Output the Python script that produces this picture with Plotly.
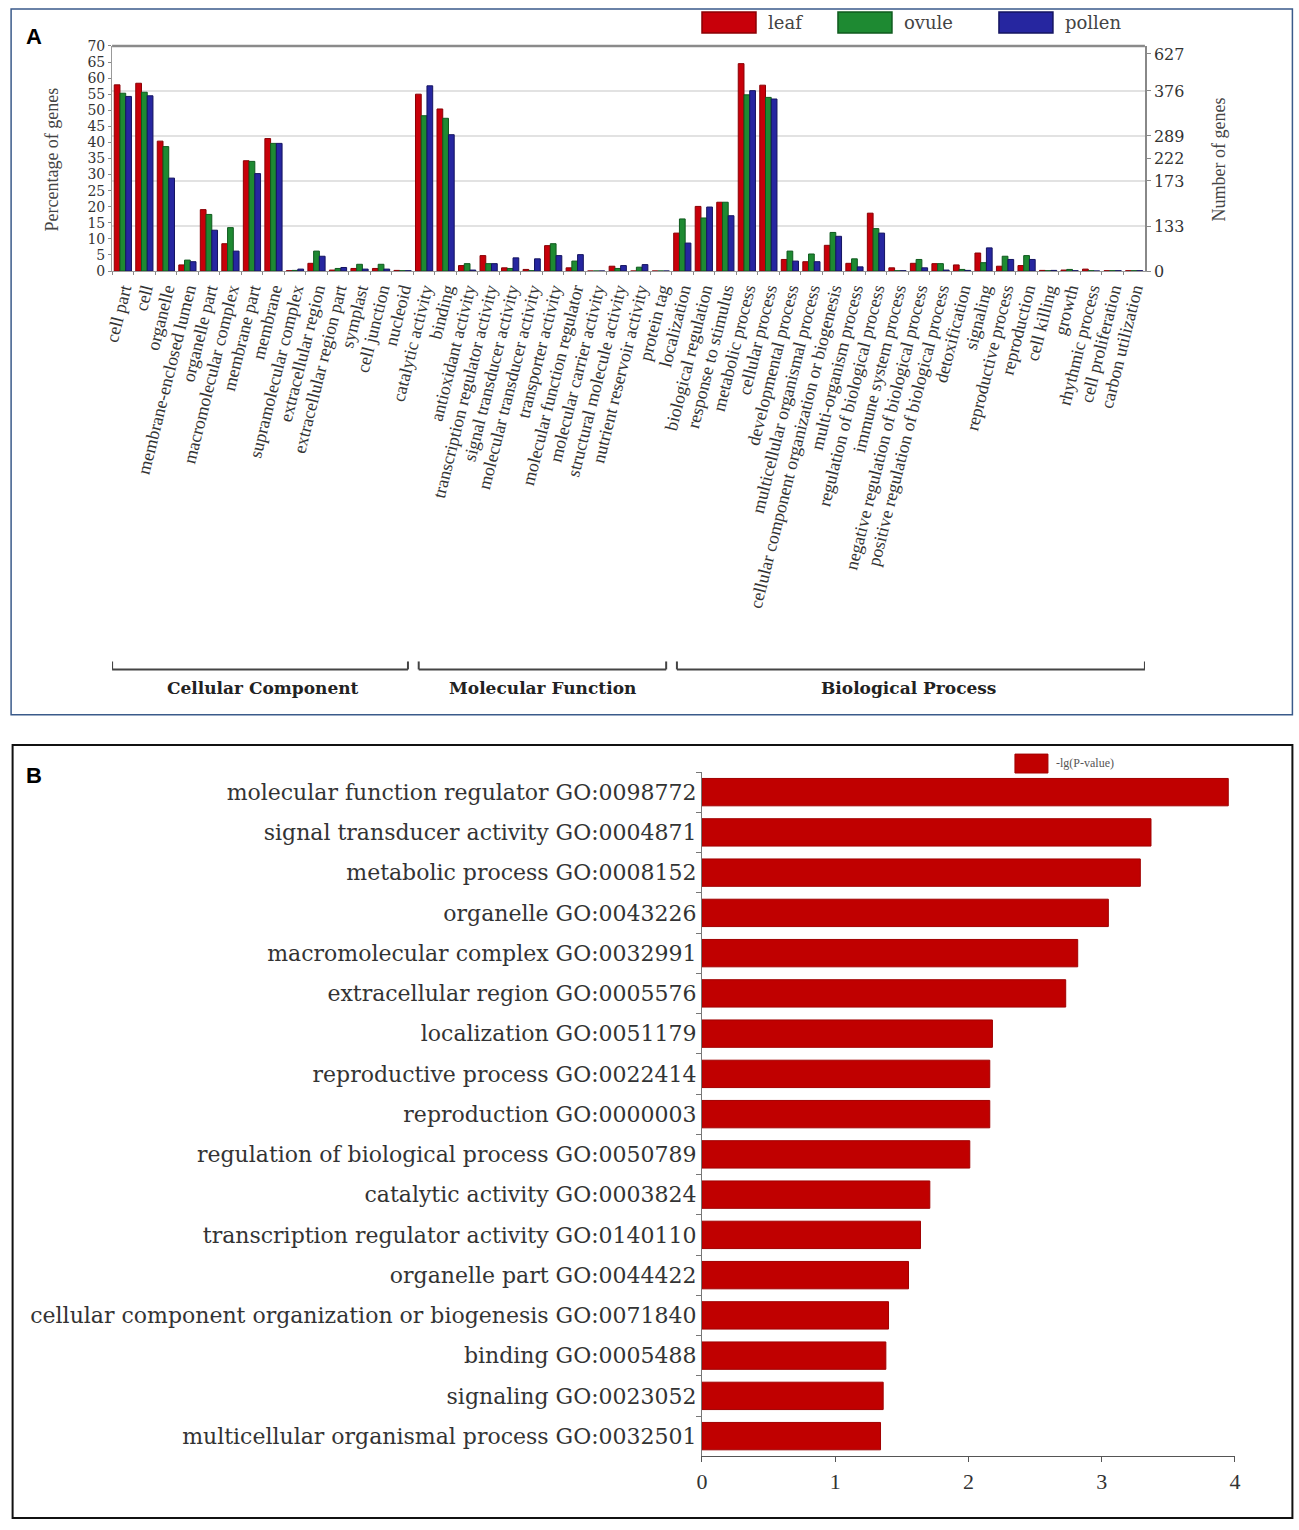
import plotly.graph_objects as go

W, H = 1299, 1530
# the photographed page shows up slightly shrunk and shifted; these constants map
# reference pixel positions to figure pixel positions to compensate
S, A, K = 0.98783, 7.9, 0.99557

# ---------------- Panel A data ----------------
cats_cc = ["cell part", "cell", "organelle", "membrane-enclosed lumen", "organelle part",
           "macromolecular complex", "membrane part", "membrane", "supramolecular complex",
           "extracellular region", "extracellular region part", "symplast", "cell junction",
           "nucleoid"]
cats_mf = ["catalytic activity", "binding", "antioxidant activity",
           "transcription regulator activity", "signal transducer activity",
           "molecular transducer activity", "transporter activity",
           "molecular function regulator", "molecular carrier activity",
           "structural molecule activity", "nutrient reservoir activity", "protein tag"]
cats_bp = ["localization", "biological regulation", "response to stimulus", "metabolic process",
           "cellular process", "developmental process", "multicellular organismal process",
           "cellular component organization or biogenesis", "multi-organism process",
           "regulation of biological process", "immune system process",
           "negative regulation of biological process",
           "positive regulation of biological process", "detoxification", "signaling",
           "reproductive process", "reproduction", "cell killing", "growth",
           "rhythmic process", "cell proliferation", "carbon utilization"]
categories = cats_cc + cats_mf + cats_bp

leaf = [57.9, 58.4, 40.4, 1.9, 19.1, 8.5, 34.3, 41.2, 0.1, 2.4, 0.3, 0.8, 0.8, 0.2,
        55.0, 50.4, 1.7, 4.8, 1.0, 0.5, 7.9, 1.0, 0.0, 1.5, 0.0, 0.0,
        11.8, 20.1, 21.4, 64.5, 57.8, 3.6, 2.9, 8.0, 2.4, 18.0, 1.0, 2.4, 2.3, 1.9,
        5.6, 1.5, 1.7, 0.2, 0.3, 0.6, 0.1, 0.1]
ovule = [55.3, 55.6, 38.7, 3.4, 17.6, 13.5, 34.1, 39.7, 0.2, 6.2, 0.8, 2.1, 2.1, 0.1,
         48.3, 47.5, 2.3, 2.3, 0.8, 0.1, 8.5, 3.1, 0.0, 0.8, 1.2, 0.0,
         16.2, 16.5, 21.4, 54.8, 54.0, 6.2, 5.3, 12.0, 3.8, 13.2, 0.1, 3.6, 2.3, 0.5,
         2.6, 4.6, 4.8, 0.1, 0.5, 0.1, 0.1, 0.1]
pollen = [54.3, 54.5, 28.9, 2.9, 12.7, 6.2, 30.3, 39.7, 0.6, 4.6, 1.1, 0.6, 0.6, 0.1,
          57.6, 42.4, 0.3, 2.3, 4.1, 3.8, 4.8, 5.1, 0.0, 1.7, 2.0, 0.0,
          8.7, 19.9, 17.2, 56.1, 53.5, 3.1, 2.9, 10.8, 1.3, 11.8, 0.1, 1.0, 0.3, 0.2,
          7.2, 3.6, 3.6, 0.2, 0.1, 0.0, 0.1, 0.1]

series_names = ["leaf", "ovule", "pollen"]
series_colors = ["#C8000A", "#1E8A32", "#2626A0"]
series_edges = ["#8A0005", "#0F5A1E", "#141460"]

left_ticks = list(range(0, 75, 5))
right_tickvals = [0, 14, 28, 35, 42, 56, 67.5]
right_ticktext = ["0", "133", "173", "222", "289", "376", "627"]
grid_vals = [14, 28, 42, 56]

group_names = ["Cellular Component", "Molecular Function", "Biological Process"]
group_sizes = [len(cats_cc), len(cats_mf), len(cats_bp)]

# ---------------- Panel B data ----------------
go_terms = ["molecular function regulator GO:0098772", "signal transducer activity GO:0004871",
            "metabolic process GO:0008152", "organelle GO:0043226",
            "macromolecular complex GO:0032991", "extracellular region GO:0005576",
            "localization GO:0051179", "reproductive process GO:0022414",
            "reproduction GO:0000003", "regulation of biological process GO:0050789",
            "catalytic activity GO:0003824", "transcription regulator activity GO:0140110",
            "organelle part GO:0044422",
            "cellular component organization or biogenesis GO:0071840",
            "binding GO:0005488", "signaling GO:0023052",
            "multicellular organismal process GO:0032501"]
neg_log_p = [3.95, 3.37, 3.29, 3.05, 2.82, 2.73, 2.18, 2.16, 2.16, 2.01, 1.71, 1.64,
             1.55, 1.40, 1.38, 1.36, 1.34]

SERIF = "Liberation Serif"
WIDE = "DejaVu Serif"
TXT = "#333333"

def px(x):
    return ((x - A) / S) / W

def py(y):
    return 1 - (K * (y - A) / S) / H

fig = go.Figure()

for name, vals, col, edge in zip(series_names, [leaf, ovule, pollen], series_colors, series_edges):
    fig.add_trace(go.Bar(x=categories, y=vals, name=name, xaxis="x", yaxis="y",
                         marker=dict(color=col, line=dict(color=edge, width=1)),
                         showlegend=False))

# dummy trace to activate right axis
fig.add_trace(go.Scatter(x=[categories[0]], y=[None], xaxis="x", yaxis="y2",
                         showlegend=False, hoverinfo="skip", mode="markers"))

fig.add_trace(go.Bar(x=neg_log_p, y=go_terms, orientation="h", xaxis="x2", yaxis="y3",
                     name="-lg(P-value)", width=0.68,
                     marker=dict(color="#C00000", line=dict(color="#A00000", width=1)),
                     showlegend=False))

fig.update_layout(
    width=W, height=H, margin=dict(l=0, r=0, t=0, b=0),
    paper_bgcolor="white", plot_bgcolor="white",
    barmode="group", bargap=0.2, bargroupgap=0.0,
    font=dict(family=SERIF, color=TXT),
    xaxis=dict(domain=[px(110), px(1143)], anchor="y", type="category",
               categoryorder="array", categoryarray=categories,
               range=[-0.5, len(categories) - 0.5],
               tickmode="linear", tick0=0, dtick=1,
               tickangle=-76, tickfont=dict(size=18, family=SERIF, color=TXT),
               ticks="outside", tickson="boundaries", ticklen=3, tickcolor="#888",
               showline=True, linecolor="#999", linewidth=1, showgrid=False),
    yaxis=dict(domain=[py(272), py(46)], anchor="x", range=[0, 70], autorange=False,
               tickvals=left_ticks, ticktext=[str(v) for v in left_ticks],
               tickfont=dict(size=14, family=WIDE, color=TXT),
               ticks="outside", ticklen=3, tickcolor="#888",
               showline=True, linecolor="#999", linewidth=1, showgrid=False, zeroline=False,
               minor=dict(tickvals=grid_vals, showgrid=True, gridcolor="#E2E2E2",
                          gridwidth=1.5, ticks="")),
    yaxis2=dict(overlaying="y", side="right", anchor="x", range=[0, 70], autorange=False,
                tickvals=right_tickvals, ticktext=right_ticktext,
                tickfont=dict(size=16, family=WIDE, color=TXT),
                ticks="outside", ticklen=4, tickcolor="#888",
                showline=True, linecolor="#888", linewidth=1.5, showgrid=False,
                zeroline=False),
    xaxis2=dict(domain=[px(700), px(1233)], anchor="y3", range=[0, 4], autorange=False,
                tickvals=[0, 1, 2, 3, 4], tickfont=dict(size=22, family=SERIF, color=TXT),
                ticks="outside", ticklen=5, tickcolor="#555",
                showline=True, linecolor="#555", linewidth=1, showgrid=False, zeroline=False),
    yaxis3=dict(domain=[py(1462), py(775)], anchor="x2", type="category",
                categoryorder="array", categoryarray=go_terms, autorange="reversed",
                tickfont=dict(size=22, family=WIDE, color=TXT),
                ticks="outside", tickson="boundaries", ticklen=5, tickcolor="#777",
                showline=True, linecolor="#777", linewidth=1, showgrid=False),
)

shapes = []
ann = []

# panel borders
shapes.append(dict(type="rect", xref="paper", yref="paper", x0=px(9), x1=px(1290.5),
                   y0=py(717.5), y1=py(9), line=dict(color="#3A5A8A", width=1.5)))
shapes.append(dict(type="rect", xref="paper", yref="paper", x0=px(10.5), x1=px(1290.5),
                   y0=py(1524), y1=py(748), line=dict(color="#111", width=2)))

# top border of plot area A
shapes.append(dict(type="line", xref="x domain", yref="y domain", x0=0, x1=1, y0=1, y1=1,
                   line=dict(color="#8A8A8A", width=2.5)))

# custom legend A
leg_x = [700, 836, 997]
for name, col, edge, lx in zip(series_names, series_colors, series_edges, leg_x):
    shapes.append(dict(type="rect", xref="paper", yref="paper", x0=px(lx), x1=px(lx + 54),
                       y0=py(33), y1=py(12), fillcolor=col, line=dict(color=edge, width=1.5)))
    ann.append(dict(x=px(lx + 64), y=py(22), xref="paper", yref="paper", text=name,
                    showarrow=False, xanchor="left", yanchor="middle",
                    font=dict(size=18, family=WIDE, color="#444")))

# brackets for GO groups
start = 0
bracket_y, bracket_tip = py(672), py(664)
for gname, n in zip(group_names, group_sizes):
    x0 = start - 0.5 + (0.25 if start > 0 else 0)
    x1 = start + n - 0.5 - (0.25 if start + n < len(categories) else 0)
    for seg in [(x0, bracket_y, x1, bracket_y), (x0, bracket_y, x0, bracket_tip),
                (x1, bracket_y, x1, bracket_tip)]:
        shapes.append(dict(type="line", xref="x", yref="paper", x0=seg[0], y0=seg[1],
                           x1=seg[2], y1=seg[3], line=dict(color="#444", width=2)))
    ann.append(dict(x=start + (n - 1) / 2, y=py(691), xref="x", yref="paper", text=f"<b>{gname}</b>",
                    showarrow=False, xanchor="center", yanchor="middle",
                    font=dict(size=17, family=WIDE, color="#222")))
    start += n

# axis titles A
ann.append(dict(x=px(50), y=py(160), xref="paper", yref="paper", text="Percentage of genes",
                textangle=-90, showarrow=False, xanchor="center", yanchor="middle",
                font=dict(size=18, family=SERIF, color="#444")))
ann.append(dict(x=px(1218), y=py(160), xref="paper", yref="paper", text="Number of genes",
                textangle=-90, showarrow=False, xanchor="center", yanchor="middle",
                font=dict(size=18, family=SERIF, color="#444")))

# panel letters
ann.append(dict(x=px(22), y=py(37), xref="paper", yref="paper", text="<b>A</b>", showarrow=False,
                xanchor="left", yanchor="middle",
                font=dict(size=22, family="Liberation Sans", color="black")))
ann.append(dict(x=px(22), y=py(778), xref="paper", yref="paper", text="<b>B</b>", showarrow=False,
                xanchor="left", yanchor="middle",
                font=dict(size=22, family="Liberation Sans", color="black")))

# legend B
shapes.append(dict(type="rect", xref="paper", yref="paper", x0=px(1013), x1=px(1046),
                   y0=py(776), y1=py(757), fillcolor="#C00000", line=dict(color="#A00000", width=1)))
ann.append(dict(x=px(1052), y=py(766), xref="paper", yref="paper", text="-lg(P-value)",
                showarrow=False, xanchor="left", yanchor="middle",
                font=dict(size=12, family=SERIF, color="#555")))

fig.update_layout(shapes=shapes, annotations=ann)

fig.write_html("out.html", config={"displayModeBar": False},
               post_script="document.body.style.margin='0';document.body.style.padding='0';"
                           "document.documentElement.style.overflow='hidden';")
